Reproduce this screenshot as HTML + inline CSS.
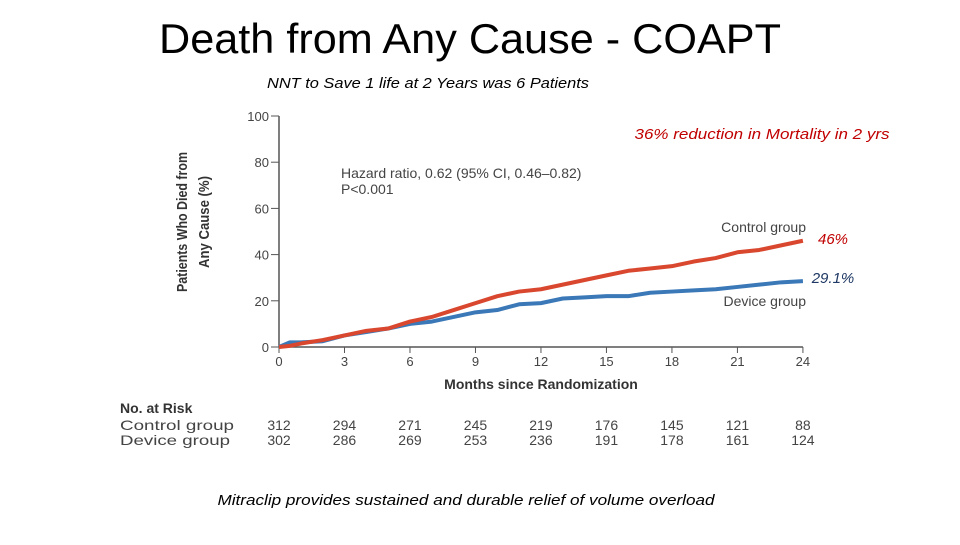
<!DOCTYPE html>
<html><head><meta charset="utf-8"><style>
body{margin:0;background:#fff;width:960px;height:540px;overflow:hidden;font-family:"Liberation Sans",sans-serif}
</style></head><body>
<svg width="960" height="540" viewBox="0 0 960 540">
<text x="470" y="53" text-anchor="middle" font-size="42" fill="#000" textLength="622" lengthAdjust="spacingAndGlyphs">Death from Any Cause - COAPT</text>
<text x="428" y="88" text-anchor="middle" font-size="15" font-style="italic" textLength="322" lengthAdjust="spacingAndGlyphs">NNT to Save 1 life at 2 Years was 6 Patients</text>
<text x="762" y="139" text-anchor="middle" font-size="15" font-style="italic" fill="#c00000" textLength="255" lengthAdjust="spacingAndGlyphs">36% reduction in Mortality in 2 yrs</text>
<text x="833" y="244" text-anchor="middle" font-size="15" font-style="italic" fill="#c00000">46%</text>
<text x="833" y="283" text-anchor="middle" font-size="15" font-style="italic" fill="#1f3864">29.1%</text>
<text x="466" y="505" text-anchor="middle" font-size="15" font-style="italic" textLength="497" lengthAdjust="spacingAndGlyphs">Mitraclip provides sustained and durable relief of volume overload</text>
<g id="axes" font-size="13" fill="#444"></g>
<g transform="translate(187,222) rotate(-90)" font-size="15" font-weight="bold" fill="#333">
<text x="0" y="0" text-anchor="middle" textLength="140" lengthAdjust="spacingAndGlyphs">Patients Who Died from</text>
<text x="0" y="22" text-anchor="middle" textLength="92" lengthAdjust="spacingAndGlyphs">Any Cause (%)</text>
</g>
<text x="541" y="389" text-anchor="middle" font-size="14" font-weight="bold" fill="#333">Months since Randomization</text>
<text x="341" y="178" font-size="14" fill="#444">Hazard ratio, 0.62 (95% CI, 0.46–0.82)</text>
<text x="341" y="194" font-size="14" fill="#444">P&lt;0.001</text>
<text x="806" y="232" text-anchor="end" font-size="14" fill="#444">Control group</text>
<text x="806" y="306" text-anchor="end" font-size="14" fill="#444">Device group</text>
<text x="120" y="413" font-size="14" font-weight="bold" fill="#333">No. at Risk</text>
<text x="120" y="430" font-size="14" fill="#444" textLength="114" lengthAdjust="spacingAndGlyphs">Control group</text>
<text x="120" y="445" font-size="14" fill="#444" textLength="110" lengthAdjust="spacingAndGlyphs">Device group</text>
<g id="series"></g>
<g id="risk" font-size="14" fill="#444"></g>
</svg>
<script>
const months=[0,0.5,1,2,3,4,5,6,7,8,9,10,11,12,13,14,15,16,17,18,19,20,21,22,23,24];
const controlVals=[0,0.5,1.5,3,5,7,8,11,13,16,19,22,24,25,27,29,31,33,34,35,37,38.5,41,42,44,46];
const deviceVals=[0,2,2,2.5,5,6.5,8,10,11,13,15,16,18.5,19,21,21.5,22,22,23.5,24,24.5,25,26,27,28,28.5];
const xTicks=[0,3,6,9,12,15,18,21,24];
const yTicks=[0,20,40,60,80,100];
const riskControl=[312,294,271,245,219,176,145,121,88];
const riskDevice=[302,286,269,253,236,191,178,161,124];
const NS="http://www.w3.org/2000/svg";
const X=m=>279+m*21.83, Y=v=>347-v*2.31;
function mk(t,a,p){const e=document.createElementNS(NS,t);for(const k in a)e.setAttribute(k,a[k]);p.appendChild(e);return e;}
const ax=document.getElementById('axes');
const yl=mk('line',{x1:X(0),x2:X(0),y1:Y(100),y2:Y(0),stroke:'#555','stroke-width':1.5},ax);


const xl=mk('line',{x1:X(0),x2:X(24),y1:Y(0),y2:Y(0),stroke:'#555','stroke-width':1.5},ax);


yTicks.forEach(v=>{
 mk('line',{x1:X(0)-8,x2:X(0),y1:Y(v),y2:Y(v),stroke:'#555'},ax);
 const t=mk('text',{x:X(0)-10,y:Y(v)+5,'text-anchor':'end'},ax);t.textContent=v;
 
 
});
xTicks.forEach((m,i)=>{
 mk('line',{x1:X(m),x2:X(m),y1:Y(0),y2:Y(0)+6,stroke:'#555'},ax);
 const t=mk('text',{x:X(m),y:366,'text-anchor':'middle'},ax);t.textContent=m;
 
 
 const r=document.getElementById('risk');
 const a=mk('text',{x:X(m),y:430,'text-anchor':'middle'},r);a.textContent=riskControl[i];
 
 
 const b=mk('text',{x:X(m),y:445,'text-anchor':'middle'},r);b.textContent=riskDevice[i];
 
 
});
function line(vals){return months.map((m,i)=>(i?'L':'M')+X(m)+' '+Y(vals[i])).join(' ');}
const s=document.getElementById('series');
const dv=mk('path',{d:line(deviceVals),fill:'none',stroke:'#3a78b8','stroke-width':4,'stroke-linejoin':'round'},s);


const cv=mk('path',{d:line(controlVals),fill:'none',stroke:'#d9472f','stroke-width':4,'stroke-linejoin':'round'},s);


</script>
</body></html>
